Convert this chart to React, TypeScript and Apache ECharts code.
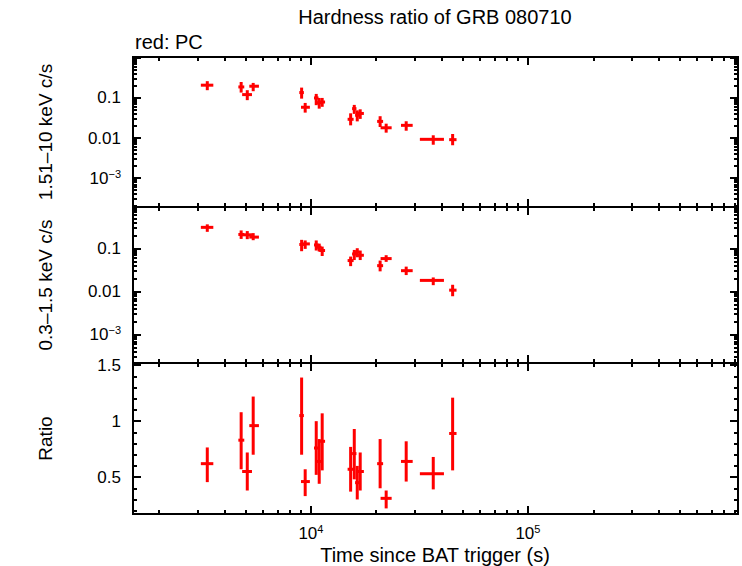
import { useEffect, useRef } from 'react';
import * as echarts from 'echarts';

// time since trigger (s): bin centre and bin edges
const timeMid = [3330, 4770, 5090, 5420, 9060, 9410, 10580, 10920, 11270, 15240, 15840, 16350, 16870, 20840, 22220, 27480, 36620, 44980];
const timeLo = [3110, 4630, 4820, 5200, 8840, 9000, 10330, 10660, 10920, 14760, 15480, 15980, 16220, 20190, 20940, 26000, 31770, 43350];
const timeHi = [3550, 4930, 5350, 5760, 9280, 9890, 10840, 11190, 11620, 15730, 16210, 16730, 17540, 21510, 23550, 29440, 41020, 46880];

// 1.51-10 keV count rate
const hardRate = [0.208, 0.188, 0.121, 0.196, 0.136, 0.0585, 0.1, 0.076, 0.079, 0.0293, 0.054, 0.037, 0.041, 0.026, 0.018, 0.0207, 0.00927, 0.0091];
const hardLo = [0.156, 0.136, 0.088, 0.147, 0.096, 0.043, 0.066, 0.054, 0.06, 0.0207, 0.04, 0.026, 0.03, 0.0188, 0.0136, 0.0152, 0.0068, 0.0066];
const hardHi = [0.262, 0.25, 0.156, 0.237, 0.181, 0.075, 0.126, 0.1, 0.1, 0.0413, 0.067, 0.049, 0.052, 0.035, 0.0228, 0.0262, 0.0117, 0.0126];

// 0.3-1.5 keV count rate
const softRate = [0.31, 0.212, 0.208, 0.184, 0.124, 0.128, 0.121, 0.107, 0.09, 0.0525, 0.0748, 0.083, 0.0697, 0.04, 0.0584, 0.0306, 0.0182, 0.0108];
const softLo = [0.244, 0.167, 0.165, 0.156, 0.0866, 0.098, 0.0898, 0.085, 0.067, 0.039, 0.054, 0.0626, 0.054, 0.0295, 0.049, 0.0242, 0.0141, 0.0078];
const softHi = [0.364, 0.263, 0.254, 0.228, 0.159, 0.154, 0.154, 0.13, 0.111, 0.065, 0.0927, 0.1016, 0.0897, 0.0525, 0.07, 0.038, 0.0213, 0.0144];

// hardness ratio
const ratio = [0.62, 0.83, 0.55, 0.96, 1.05, 0.46, 0.76, 0.64, 0.82, 0.57, 0.71, 0.45, 0.55, 0.62, 0.31, 0.64, 0.53, 0.89];
const ratioLo = [0.455, 0.57, 0.38, 0.7, 0.7, 0.33, 0.52, 0.44, 0.56, 0.37, 0.48, 0.3, 0.38, 0.4, 0.22, 0.46, 0.39, 0.56];
const ratioHi = [0.765, 1.08, 0.72, 1.22, 1.39, 0.57, 1.0, 0.84, 1.07, 0.77, 0.93, 0.6, 0.72, 0.84, 0.38, 0.82, 0.68, 1.21];

// ticks
const xMajor = [1e4, 1e5];
const xMinor = [2e3, 3e3, 4e3, 5e3, 6e3, 7e3, 8e3, 9e3, 2e4, 3e4, 4e4, 5e4, 6e4, 7e4, 8e4, 9e4, 2e5, 3e5, 4e5, 5e5, 6e5, 7e5, 8e5, 9e5];
const rateMajor = [1e-3, 1e-2, 0.1, 1];
const rateLabels = [1e-3, 1e-2, 0.1];
const rateMinor = [2e-4, 3e-4, 4e-4, 5e-4, 6e-4, 7e-4, 8e-4, 9e-4, 2e-3, 3e-3, 4e-3, 5e-3, 6e-3, 7e-3, 8e-3, 9e-3, 0.02, 0.03, 0.04, 0.05, 0.06, 0.07, 0.08, 0.09, 0.2, 0.3, 0.4, 0.5, 0.6, 0.7, 0.8, 0.9];
const ratioMajor = [0.5, 1, 1.5];
const ratioMinor = [0.2, 0.3, 0.4, 0.6, 0.7, 0.8, 0.9, 1.1, 1.2, 1.3, 1.4];

const xRange = [1514, 929000];

const FONT = '"Liberation Sans", Arial, Helvetica, sans-serif';
const RED = '#ff0000';

const expLabel = (v: number) => {
    const e = Math.round(Math.log10(v));
    if (e === -1) return '0.1';
    if (e === -2) return '0.01';
    return '10{s|' + (e < 0 ? '−' + -e : String(e)) + '}';
};

const labelStyle = (show: boolean, values: number[], formatter: (v: number) => string, margin: number) =>
    show
        ? {
            show: true,
            customValues: values,
            formatter,
            margin,
            color: '#000',
            fontFamily: FONT,
            fontSize: 17,
            lineHeight: 20,
            rich: { s: { fontSize: 11, fontFamily: FONT, color: '#000', verticalAlign: 'top', lineHeight: 12 } }
        }
        : { show: false };

const makeAxis = (
    gridIndex: number,
    type: 'log' | 'value',
    range: number[],
    position: string,
    ticks: number[],
    len: number,
    label: unknown = { show: false }
) => ({
    type,
    logBase: 10,
    gridIndex,
    min: range[0],
    max: range[1],
    position,
    axisLine: { show: true, onZero: false, lineStyle: { color: '#000', width: 2 } },
    axisTick: { show: true, inside: true, length: len, customValues: ticks, lineStyle: { color: '#000', width: 2 } },
    axisLabel: label,
    splitLine: { show: false },
    minorTick: { show: false },
    axisPointer: { show: false }
});

const errorSeries = (idx: number, y: number[], lo: number[], hi: number[]) => ({
    type: 'custom',
    xAxisIndex: idx * 4,
    yAxisIndex: idx * 4,
    data: timeMid.map((t, i) => [t, timeLo[i], timeHi[i], y[i], lo[i], hi[i]]),
    encode: { x: [0, 1, 2], y: [3, 4, 5] },
    renderItem: (_params: unknown, api: any) => {
        const c = api.coord([api.value(0), api.value(3)]);
        const l = api.coord([api.value(1), api.value(3)]);
        const r = api.coord([api.value(2), api.value(3)]);
        const b = api.coord([api.value(0), api.value(4)]);
        const t = api.coord([api.value(0), api.value(5)]);
        const style = { stroke: RED, lineWidth: 3 };
        return {
            type: 'group',
            children: [
                { type: 'line', shape: { x1: l[0], y1: c[1], x2: r[0], y2: c[1] }, style },
                { type: 'line', shape: { x1: c[0], y1: b[1], x2: c[0], y2: t[1] }, style }
            ]
        };
    }
});

const panels = [
    { top: 57, height: 150, type: 'log' as const, range: [1.9e-4, 1.05], major: rateMajor, minor: rateMinor, labels: rateLabels, fmt: expLabel, name: '1.51–10 keV c/s' },
    { top: 207, height: 156, type: 'log' as const, range: [2.2e-4, 0.92], major: rateMajor, minor: rateMinor, labels: rateLabels, fmt: expLabel, name: '0.3–1.5 keV c/s' },
    { top: 363, height: 151, type: 'value' as const, range: [0.17, 1.52], major: ratioMajor, minor: ratioMinor, labels: ratioMajor, fmt: (v: number) => String(Math.round(v * 10) / 10), name: 'Ratio' }
];

export default function App() {
    const chartRef = useRef<HTMLDivElement>(null);

    useEffect(() => {
        if (!chartRef.current) return;
        const chart = echarts.init(chartRef.current, null, { renderer: 'svg' });

        const grid: unknown[] = [];
        const xAxis: unknown[] = [];
        const yAxis: unknown[] = [];
        const graphic: unknown[] = [];

        panels.forEach((p, i) => {
            grid.push({ left: 133, right: 4, top: p.top, height: p.height, containLabel: false, outerBoundsMode: 'none' });
            const xl = labelStyle(i === 2, xMajor, expLabel, 9);
            xAxis.push(makeAxis(i, 'log', xRange, 'bottom', xMajor, 8, xl));
            xAxis.push(makeAxis(i, 'log', xRange, 'bottom', xMinor, 4));
            xAxis.push(makeAxis(i, 'log', xRange, 'top', xMajor, 8));
            xAxis.push(makeAxis(i, 'log', xRange, 'top', xMinor, 4));
            const yl = labelStyle(true, p.labels, p.fmt, 12);
            yAxis.push(makeAxis(i, p.type, p.range, 'left', p.major, 8, yl));
            yAxis.push(makeAxis(i, p.type, p.range, 'left', p.minor, 4));
            yAxis.push(makeAxis(i, p.type, p.range, 'right', p.major, 8));
            yAxis.push(makeAxis(i, p.type, p.range, 'right', p.minor, 4));
            graphic.push({
                type: 'text',
                x: 45,
                y: p.top + p.height / 2,
                rotation: Math.PI / 2,
                style: { text: p.name, fontFamily: FONT, fontSize: 19, fill: '#000', align: 'center', verticalAlign: 'middle' }
            });
        });

        graphic.push(
            { type: 'text', x: 435, y: 17, style: { text: 'Hardness ratio of GRB 080710', fontFamily: FONT, fontSize: 20, fill: '#000', align: 'center', verticalAlign: 'middle' } },
            { type: 'text', x: 135, y: 42, style: { text: 'red: PC', fontFamily: FONT, fontSize: 20, fill: '#000', align: 'left', verticalAlign: 'middle' } },
            { type: 'text', x: 435, y: 555, style: { text: 'Time since BAT trigger (s)', fontFamily: FONT, fontSize: 20, fill: '#000', align: 'center', verticalAlign: 'middle' } }
        );

        chart.setOption({
            animation: false,
            backgroundColor: '#fff',
            grid,
            xAxis,
            yAxis,
            graphic,
            series: [
                errorSeries(0, hardRate, hardLo, hardHi),
                errorSeries(1, softRate, softLo, softHi),
                errorSeries(2, ratio, ratioLo, ratioHi)
            ]
        });

        return () => chart.dispose();
    }, []);

    return <div ref={chartRef} style={{ position: 'fixed', left: 0, top: 0, width: 742, height: 566 }} />;
}
